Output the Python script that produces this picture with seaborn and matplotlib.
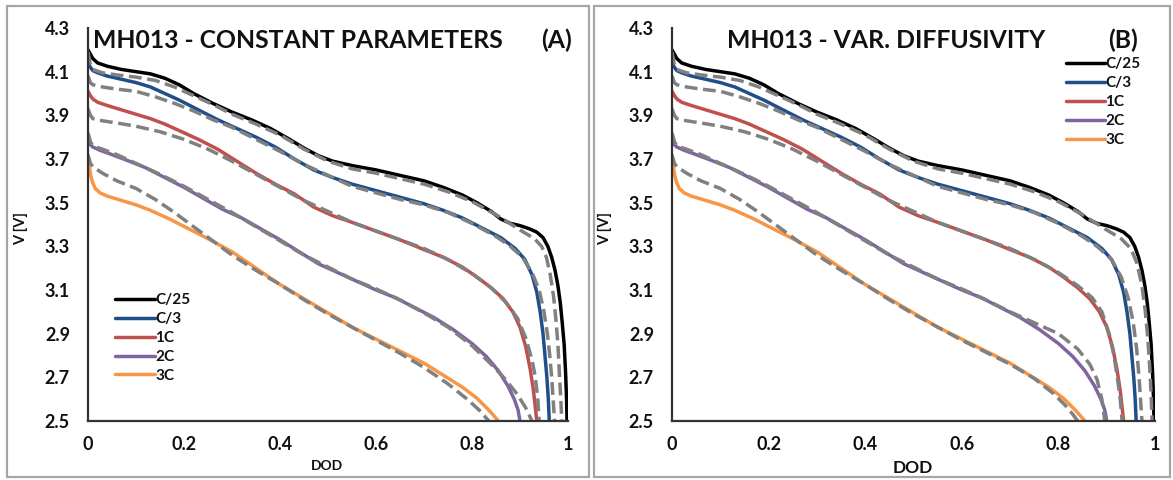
import matplotlib
matplotlib.use("Agg")
import matplotlib.pyplot as plt
from matplotlib.patches import Rectangle
import seaborn as sns

# ---------------- data (DOD, V) ----------------
labels = ["C/25", "C/3", "1C", "2C", "3C"]
colors = ["#000000", "#1F4E89", "#C0504D", "#8064A2", "#F79646"]

# solid curves (same in both panels)
dod_c25 = [0, 0.005, 0.01, 0.02, 0.04, 0.07, 0.1, 0.13, 0.16, 0.19, 0.22, 0.26, 0.3, 0.34, 0.38, 0.42, 0.45, 0.48,
           0.51, 0.55, 0.6, 0.65, 0.7, 0.74, 0.78, 0.81, 0.84, 0.86, 0.88, 0.9, 0.92, 0.935, 0.948, 0.958, 0.966,
           0.973, 0.979, 0.984, 0.988, 0.992, 0.995, 0.997, 0.998]
v_c25 = [4.20, 4.18, 4.16, 4.14, 4.125, 4.11, 4.10, 4.09, 4.07, 4.04, 4.00, 3.955, 3.915, 3.88, 3.84, 3.79, 3.75, 3.715,
         3.69, 3.67, 3.65, 3.625, 3.60, 3.57, 3.535, 3.50, 3.46, 3.425, 3.405, 3.395, 3.38, 3.365, 3.34, 3.30, 3.25,
         3.19, 3.12, 3.04, 2.95, 2.85, 2.72, 2.60, 2.50]

dod_c3 = [0, 0.005, 0.01, 0.02, 0.04, 0.07, 0.1, 0.13, 0.16, 0.19, 0.23, 0.27, 0.31, 0.35, 0.39, 0.43, 0.47, 0.51,
          0.55, 0.6, 0.65, 0.7, 0.74, 0.78, 0.82, 0.86, 0.89, 0.91, 0.925, 0.935, 0.942, 0.948, 0.952, 0.956, 0.959, 0.961]
v_c3 = [4.14, 4.12, 4.105, 4.095, 4.08, 4.065, 4.05, 4.03, 4.00, 3.97, 3.925, 3.88, 3.84, 3.80, 3.755, 3.70, 3.65, 3.615,
        3.585, 3.555, 3.525, 3.495, 3.465, 3.43, 3.385, 3.34, 3.29, 3.24, 3.17, 3.09, 3.00, 2.90, 2.80, 2.70, 2.60, 2.50]

dod_1c = [0, 0.005, 0.01, 0.02, 0.04, 0.07, 0.1, 0.13, 0.16, 0.19, 0.23, 0.27, 0.31, 0.35, 0.39, 0.43, 0.47, 0.51,
          0.55, 0.6, 0.65, 0.7, 0.74, 0.78, 0.81, 0.84, 0.865, 0.885, 0.9, 0.912, 0.921, 0.928, 0.932, 0.935]
v_1c = [4.01, 3.99, 3.975, 3.96, 3.945, 3.925, 3.905, 3.885, 3.86, 3.83, 3.79, 3.745, 3.69, 3.635, 3.585, 3.54, 3.48, 3.44,
        3.41, 3.37, 3.33, 3.285, 3.25, 3.205, 3.16, 3.11, 3.06, 3.00, 2.93, 2.84, 2.74, 2.64, 2.56, 2.50]

dod_2c = [0, 0.005, 0.01, 0.025, 0.05, 0.08, 0.12, 0.16, 0.2, 0.24, 0.28, 0.32, 0.36, 0.4, 0.44, 0.48, 0.52, 0.56,
          0.6, 0.64, 0.68, 0.72, 0.76, 0.8, 0.83, 0.855, 0.875, 0.888, 0.896, 0.9]
v_2c = [3.78, 3.765, 3.755, 3.74, 3.72, 3.695, 3.66, 3.615, 3.57, 3.52, 3.47, 3.43, 3.38, 3.33, 3.275, 3.22, 3.18, 3.14,
        3.10, 3.065, 3.02, 2.975, 2.92, 2.855, 2.795, 2.73, 2.66, 2.60, 2.55, 2.50]

dod_3c = [0, 0.003, 0.006, 0.01, 0.015, 0.025, 0.04, 0.07, 0.1, 0.13, 0.17, 0.21, 0.25, 0.3, 0.35, 0.4, 0.45, 0.5,
          0.55, 0.6, 0.65, 0.7, 0.74, 0.78, 0.81, 0.835, 0.855]
v_3c = [3.70, 3.66, 3.62, 3.59, 3.565, 3.545, 3.53, 3.51, 3.49, 3.465, 3.425, 3.38, 3.335, 3.275, 3.20, 3.125, 3.06, 2.995,
        2.93, 2.875, 2.82, 2.765, 2.71, 2.655, 2.605, 2.55, 2.50]

# dashed (model) curves, panel A
dA_c25 = [0, 0.005, 0.01, 0.03, 0.06, 0.1, 0.14, 0.18, 0.22, 0.26, 0.3, 0.35, 0.4, 0.45, 0.5, 0.55, 0.6, 0.65, 0.7,
          0.75, 0.8, 0.85, 0.9, 0.93, 0.945, 0.955, 0.963, 0.97, 0.975, 0.979, 0.982, 0.985, 0.987]
vA_c25 = [4.19, 4.13, 4.11, 4.095, 4.085, 4.075, 4.06, 4.03, 3.99, 3.95, 3.905, 3.86, 3.81, 3.745, 3.69, 3.655, 3.635,
          3.61, 3.585, 3.55, 3.505, 3.445, 3.375, 3.335, 3.30, 3.25, 3.17, 3.07, 2.96, 2.85, 2.72, 2.60, 2.50]
dA_c3 = [0, 0.005, 0.01, 0.03, 0.06, 0.1, 0.14, 0.18, 0.22, 0.26, 0.3, 0.35, 0.4, 0.45, 0.5, 0.55, 0.6, 0.65, 0.7,
         0.75, 0.8, 0.85, 0.88, 0.905, 0.925, 0.94, 0.95, 0.957, 0.962, 0.966, 0.969, 0.972]
vA_c3 = [4.08, 4.05, 4.04, 4.03, 4.02, 4.01, 3.985, 3.955, 3.92, 3.88, 3.845, 3.79, 3.735, 3.675, 3.625, 3.575, 3.545,
         3.515, 3.49, 3.455, 3.405, 3.345, 3.30, 3.25, 3.18, 3.10, 3.00, 2.90, 2.80, 2.70, 2.60, 2.50]
dA_1c = [0, 0.005, 0.01, 0.03, 0.06, 0.1, 0.15, 0.2, 0.25, 0.3, 0.35, 0.4, 0.45, 0.5, 0.55, 0.6, 0.65, 0.7, 0.75,
         0.8, 0.84, 0.87, 0.895, 0.912, 0.925, 0.932, 0.937, 0.94]
vA_1c = [3.93, 3.90, 3.885, 3.875, 3.865, 3.85, 3.825, 3.79, 3.745, 3.69, 3.63, 3.57, 3.51, 3.46, 3.41, 3.37, 3.33, 3.29,
         3.24, 3.175, 3.11, 3.045, 2.97, 2.88, 2.78, 2.70, 2.60, 2.50]
dA_2c = [0, 0.005, 0.01, 0.03, 0.06, 0.1, 0.15, 0.2, 0.25, 0.3, 0.35, 0.4, 0.45, 0.5, 0.55, 0.6, 0.65, 0.7, 0.75,
         0.8, 0.84, 0.87, 0.895, 0.912, 0.925]
vA_2c = [3.82, 3.78, 3.76, 3.745, 3.72, 3.68, 3.63, 3.575, 3.515, 3.455, 3.39, 3.325, 3.26, 3.205, 3.15, 3.105, 3.055,
         2.995, 2.93, 2.845, 2.76, 2.69, 2.62, 2.56, 2.50]
dA_3c = [0, 0.005, 0.01, 0.03, 0.06, 0.1, 0.14, 0.18, 0.22, 0.26, 0.3, 0.35, 0.4, 0.45, 0.5, 0.55, 0.6, 0.65, 0.7,
         0.75, 0.79, 0.815, 0.835]
vA_3c = [3.72, 3.68, 3.665, 3.635, 3.60, 3.565, 3.515, 3.455, 3.39, 3.325, 3.26, 3.19, 3.125, 3.055, 2.99, 2.93, 2.87,
         2.81, 2.745, 2.67, 2.60, 2.55, 2.50]

# dashed (model) curves, panel B
dB_c25 = [0, 0.005, 0.01, 0.03, 0.06, 0.1, 0.14, 0.18, 0.22, 0.26, 0.3, 0.35, 0.4, 0.45, 0.5, 0.55, 0.6, 0.65, 0.7,
          0.75, 0.8, 0.85, 0.9, 0.93, 0.95, 0.963, 0.973, 0.98, 0.985, 0.989, 0.992, 0.994]
vB_c25 = [4.19, 4.13, 4.11, 4.095, 4.085, 4.075, 4.06, 4.03, 3.99, 3.95, 3.905, 3.86, 3.81, 3.745, 3.69, 3.655, 3.635,
          3.61, 3.585, 3.55, 3.505, 3.445, 3.375, 3.335, 3.29, 3.22, 3.12, 3.00, 2.88, 2.75, 2.62, 2.50]
dB_c3 = [0, 0.005, 0.01, 0.03, 0.06, 0.1, 0.14, 0.18, 0.22, 0.26, 0.3, 0.35, 0.4, 0.45, 0.5, 0.55, 0.6, 0.65, 0.7,
         0.75, 0.8, 0.85, 0.88, 0.91, 0.93, 0.945, 0.955, 0.962, 0.967, 0.97, 0.973]
vB_c3 = [4.08, 4.05, 4.04, 4.03, 4.02, 4.01, 3.985, 3.955, 3.92, 3.88, 3.845, 3.79, 3.735, 3.675, 3.625, 3.575, 3.545,
         3.515, 3.49, 3.455, 3.405, 3.345, 3.30, 3.24, 3.16, 3.06, 2.95, 2.83, 2.70, 2.60, 2.50]
dB_1c = [0, 0.005, 0.01, 0.03, 0.06, 0.1, 0.15, 0.2, 0.25, 0.3, 0.35, 0.4, 0.45, 0.5, 0.55, 0.6, 0.65, 0.7, 0.75,
         0.8, 0.84, 0.87, 0.89, 0.905, 0.915, 0.922, 0.928, 0.932]
vB_1c = [3.93, 3.90, 3.885, 3.875, 3.865, 3.85, 3.825, 3.79, 3.745, 3.69, 3.63, 3.57, 3.51, 3.46, 3.41, 3.37, 3.33, 3.29,
         3.24, 3.18, 3.12, 3.065, 3.00, 2.90, 2.80, 2.70, 2.60, 2.50]
dB_2c = [0, 0.005, 0.01, 0.03, 0.06, 0.1, 0.15, 0.2, 0.25, 0.3, 0.35, 0.4, 0.45, 0.5, 0.55, 0.6, 0.65, 0.7, 0.75,
         0.8, 0.84, 0.865, 0.88, 0.89, 0.896]
vB_2c = [3.82, 3.78, 3.76, 3.745, 3.72, 3.68, 3.63, 3.575, 3.515, 3.455, 3.39, 3.325, 3.26, 3.205, 3.15, 3.105, 3.055,
         3.00, 2.95, 2.90, 2.83, 2.76, 2.69, 2.60, 2.50]
dB_3c = [0, 0.005, 0.01, 0.03, 0.06, 0.1, 0.14, 0.18, 0.22, 0.26, 0.3, 0.35, 0.4, 0.45, 0.5, 0.55, 0.6, 0.65, 0.7,
         0.75, 0.79, 0.815, 0.83, 0.84]
vB_3c = [3.72, 3.68, 3.665, 3.635, 3.60, 3.565, 3.515, 3.455, 3.39, 3.325, 3.26, 3.19, 3.125, 3.055, 2.99, 2.93, 2.87,
         2.815, 2.76, 2.695, 2.625, 2.57, 2.53, 2.50]

solid = [(dod_c25, v_c25), (dod_c3, v_c3), (dod_1c, v_1c), (dod_2c, v_2c), (dod_3c, v_3c)]
dashA = [(dA_c25, vA_c25), (dA_c3, vA_c3), (dA_1c, vA_1c), (dA_2c, vA_2c), (dA_3c, vA_3c)]
dashB = [(dB_c25, vB_c25), (dB_c3, vB_c3), (dB_1c, vB_1c), (dB_2c, vB_2c), (dB_3c, vB_3c)]

titles = ["MH013 - CONSTANT PARAMETERS", "MH013 - VAR. DIFFUSIVITY"]
tags = ["(A)", "(B)"]
yticks = [2.5, 2.7, 2.9, 3.1, 3.3, 3.5, 3.7, 3.9, 4.1, 4.3]
xticks = [0, 0.2, 0.4, 0.6, 0.8, 1]
xticklabels = ["0", "0.2", "0.4", "0.6", "0.8", "1"]

# ---------------- style ----------------
sns.set_style("white")
plt.rcParams['font.family'] = ['Lato', 'DejaVu Sans']
plt.rcParams['font.weight'] = 'bold'

fig = plt.figure(figsize=(11.73, 4.8), dpi=100)
W, H = 1173.0, 480.0
TXT = "#111111"

# panel frames
for (x0, x1) in [(7, 589), (594, 1170)]:
    fig.patches.append(Rectangle((x0 / W, 3 / H), (x1 - x0) / W, (474 - 3) / H, transform=fig.transFigure,
                                 fill=False, edgecolor="#a6a6a6", lw=1.6))

axA = fig.add_axes([88 / W, 59 / H, 480 / W, 393 / H])
axB = fig.add_axes([672 / W, 59 / H, 483 / W, 393 / H])

for k, (ax, dashes) in enumerate([(axA, dashA), (axB, dashB)]):
    for (x, y), lab, c in zip(solid, labels, colors):
        sns.lineplot(x=x, y=y, ax=ax, color=c, lw=2.5, sort=False, estimator=None, label=lab)
    for (x, y) in dashes:
        sns.lineplot(x=x, y=y, ax=ax, color="#808080", lw=2.5, sort=False, estimator=None,
                     linestyle="--", dashes=(3.8, 2.0), label="_nolegend_")
    ax.set_xlim(0, 1.0)
    ax.set_ylim(2.5, 4.3)
    ax.set_yticks(yticks)
    ax.set_yticklabels([f"{t:.1f}" for t in yticks], fontweight="bold")
    ax.set_xticks(xticks)
    ax.set_xticklabels(xticklabels, fontweight="bold")
    for s in ["top", "right"]:
        ax.spines[s].set_visible(False)
    for s in ["left", "bottom"]:
        ax.spines[s].set_color("#333333")
        ax.spines[s].set_linewidth(1.6)
        ax.spines[s].set_clip_on(False)
    ax.tick_params(axis="both", direction="in", length=5, width=1.3, color="#333333",
                   labelsize=13, labelcolor=TXT)
    ax.tick_params(axis="y", pad=13)
    ax.tick_params(axis="x", pad=11)
    ax.set_ylabel("V [V]", fontsize=10.5, fontweight="bold", color=TXT)
    ax.yaxis.set_label_coords(-0.125, 0.49)
    ax.set_xlabel("DOD", fontsize=10 if k == 0 else 12.5, fontweight="bold", color=TXT)
    ax.xaxis.set_label_coords(0.498, -0.098)
    ax.patch.set_alpha(0)

    handles, labs = ax.get_legend_handles_labels()
    loc_anchor = (0.057, 0.325) if k == 0 else (0.815, 0.925)
    leg = ax.legend(handles[:5], labs[:5], loc="upper left", bbox_to_anchor=loc_anchor, frameon=False,
                    handlelength=2.6, handletextpad=0.0, labelspacing=0.32, borderpad=0, borderaxespad=0,
                    prop={"weight": "bold", "size": 11})
    for t in leg.get_texts():
        t.set_color(TXT)

# titles
fig.text(93 / W, 1 - 40 / H, titles[0], fontsize=17.8, fontweight="bold", va="center", ha="left", color=TXT)
fig.text(556 / W, 1 - 40 / H, tags[0], fontsize=17.8, fontweight="bold", va="center", ha="center", color=TXT)
fig.text(886 / W, 1 - 40 / H, titles[1], fontsize=17.8, fontweight="bold", va="center", ha="center", color=TXT)
fig.text(1123 / W, 1 - 40 / H, tags[1], fontsize=17.8, fontweight="bold", va="center", ha="center", color=TXT)

fig.savefig("out.png", dpi=100)
